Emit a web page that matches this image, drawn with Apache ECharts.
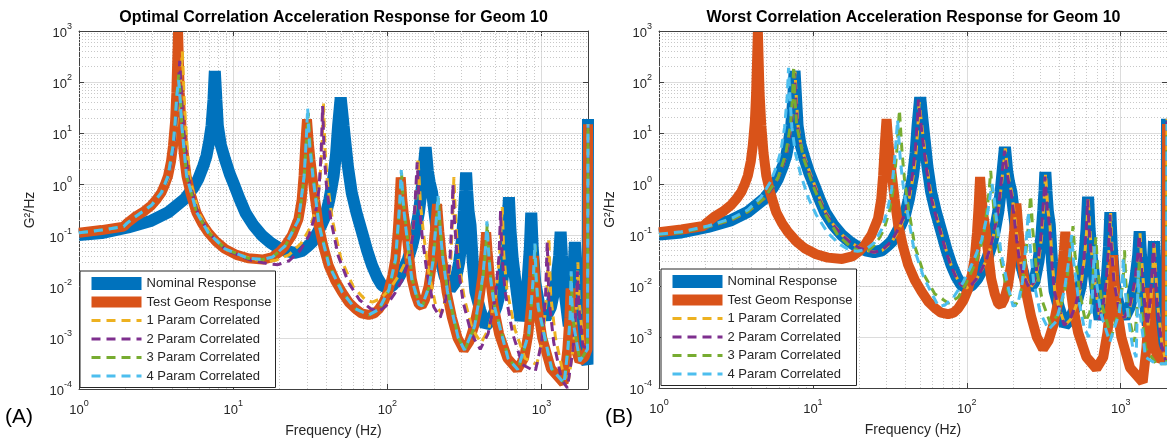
<!DOCTYPE html>
<html>
<head>
<meta charset="utf-8">
<title>Acceleration Response for Geom 10</title>
<script src="https://cdn.jsdelivr.net/npm/echarts@6/dist/echarts.min.js"></script>
<style>
  html, body { margin: 0; padding: 0; background: #ffffff; }
  #chart { width: 1167px; height: 445px; }
</style>
</head>
<body>
<div id="chart"></div>
<script>
// ---- Text ----
const panelTitles = [
  'Optimal Correlation Acceleration Response for Geom 10',
  'Worst Correlation Acceleration Response for Geom 10'
];
const panelTags = ['(A)', '(B)'];
const seriesNames = [
  'Nominal Response', 'Test Geom Response',
  '1 Param Correlated', '2 Param Correlated', '3 Param Correlated', '4 Param Correlated'
];
const xAxisName = 'Frequency (Hz)';
const yAxisName = 'G\u00B2/Hz';

// ---- Axis ranges and grid steps ----
const freqRange = [1, 2000];
const psdRange = [1e-4, 1e3];
const minorSteps = [2, 3, 4, 5, 6, 7, 8, 9];
const xDecades = [1, 10, 100, 1000];
const yDecades = [1e-4, 1e-3, 1e-2, 1e-1, 1, 10, 100];

// ---- Response curves: [frequency Hz, PSD G^2/Hz] ----
const nominalResponse = [
  [1, 0.102], [1.4, 0.112], [2.08, 0.144], [2.95, 0.195], [3.78, 0.283], [4.85, 0.52], [5.5, 0.85],
  [5.93, 1.27], [6.4, 2.3], [6.71, 3.6], [7.0, 7], [7.24, 14], [7.45, 45], [7.6, 165], [7.78, 45],
  [7.95, 14], [8.3, 6], [8.83, 3.15], [9.5, 1.6], [10.2, 0.94], [11, 0.52], [12, 0.28], [13.5, 0.16],
  [15.4, 0.1], [17.5, 0.072], [19.6, 0.058], [22, 0.05], [25, 0.046], [28, 0.05], [30.5, 0.062],
  [32.6, 0.075], [35, 0.11], [37.5, 0.165], [39.6, 0.24], [42, 0.5], [44.8, 1.47], [46.5, 4],
  [47.9, 14], [49.8, 50], [52, 14], [53.4, 6.6], [55.5, 2.2], [58.7, 0.69], [63, 0.28], [68.5, 0.115],
  [74, 0.05], [79.5, 0.026], [86, 0.015], [92, 0.0107], [100, 0.0092], [108, 0.0105], [117, 0.014],
  [127, 0.022], [136, 0.035], [144, 0.06], [152, 0.12], [160, 0.28], [166, 0.7], [171, 1.8], [177, 5.3],
  [183, 1.8], [188, 1.1], [195, 0.69], [205, 0.2], [212, 0.08], [220, 0.035], [235, 0.016], [256, 0.009],
  [275, 0.012], [292, 0.03], [305, 0.09], [314, 0.3], [320, 0.75], [324, 1.71], [329, 0.75], [336, 0.3],
  [346, 0.16], [358, 0.03], [372, 0.008], [400, 0.0035], [433, 0.0017], [470, 0.0022], [510, 0.004],
  [550, 0.01], [580, 0.035], [600, 0.13], [614, 0.56], [628, 0.13], [650, 0.035], [690, 0.008],
  [730, 0.0022], [770, 0.004], [810, 0.012], [840, 0.06], [857, 0.28], [875, 0.06], [910, 0.012],
  [980, 0.0035], [1060, 0.0024], [1150, 0.004], [1240, 0.012], [1300, 0.04], [1329, 0.118], [1355, 0.04],
  [1410, 0.008], [1500, 0.0017], [1570, 0.006], [1615, 0.025], [1645, 0.075], [1675, 0.025], [1740, 0.004],
  [1850, 0.0007], [1985, 0.0003], [2000, 19]
];

const testGeomResponse = [
  [1, 0.114], [1.4, 0.128], [1.95, 0.15], [2.05, 0.175], [2.3, 0.23], [2.65, 0.3], [2.95, 0.39],
  [3.2, 0.52], [3.42, 0.69], [3.6, 0.98], [3.78, 1.46], [3.95, 2.8], [4.07, 5.7], [4.2, 17], [4.28, 62],
  [4.39, 950], [4.5, 62], [4.62, 14], [4.78, 4], [4.98, 1.46], [5.3, 0.65], [5.78, 0.28], [6.3, 0.17],
  [6.88, 0.115], [7.8, 0.075], [8.83, 0.055], [10.5, 0.042], [12.5, 0.036], [15.5, 0.034], [18, 0.038],
  [20, 0.048], [21.7, 0.063], [24, 0.1], [26.5, 0.21], [27.8, 0.5], [28.6, 1.46], [29.4, 6.6],
  [30.1, 18.8], [30.9, 6.6], [31.7, 3], [32.6, 1.46], [34, 0.5], [35.8, 0.16], [38.5, 0.06],
  [41.6, 0.026], [46, 0.013], [50.8, 0.0078], [56, 0.005], [62, 0.0037], [68, 0.003], [75.5, 0.0028],
  [82, 0.003], [87.7, 0.0036], [95, 0.0052], [101.7, 0.0085], [108, 0.017], [112.6, 0.035],
  [116.5, 0.11], [119.5, 0.38], [122, 1.37], [125, 0.5], [128, 0.25], [131, 0.16], [137, 0.05],
  [144, 0.014], [152, 0.007], [160, 0.0045], [167, 0.0042], [175, 0.0055], [185, 0.01], [195, 0.03],
  [203, 0.12], [210, 0.41], [217, 0.12], [225, 0.04], [242, 0.008], [262, 0.0025], [285, 0.001],
  [313, 0.00058], [340, 0.00085], [365, 0.0017], [390, 0.0045], [412, 0.015], [428, 0.05], [437, 0.115],
  [446, 0.05], [462, 0.015], [490, 0.004], [530, 0.0012], [600, 0.0004], [695, 0.00024], [770, 0.0004],
  [820, 0.0012], [860, 0.005], [880, 0.016], [892, 0.04], [905, 0.016], [940, 0.004], [1010, 0.001],
  [1150, 0.00025], [1390, 0.00013], [1470, 0.0006], [1515, 0.0025], [1543, 0.0092], [1570, 0.0025],
  [1640, 0.0007], [1760, 0.00035], [1900, 0.00042], [1985, 0.0006], [2000, 15]
];

// Optimal correlation runs
const optimal1Param = [
  [1, 0.114], [1.4, 0.128], [1.95, 0.15], [2.05, 0.175], [2.3, 0.23], [2.95, 0.385], [3.42, 0.66],
  [3.8, 1.3], [4.1, 5], [4.3, 15], [4.5, 55], [4.68, 400], [4.8, 55], [4.92, 14], [5.2, 1.4], [6, 0.27],
  [7.1, 0.11], [9, 0.053], [13, 0.035], [16.5, 0.031], [19, 0.033], [23, 0.042], [27.5, 0.07],
  [31.5, 0.14], [34.5, 0.35], [36.5, 1.2], [37.6, 5], [38.5, 38], [39.4, 5], [40.8, 1.1], [44, 0.2],
  [50, 0.035], [60, 0.01], [72, 0.0055], [80, 0.005], [90, 0.0058], [102, 0.0085], [118, 0.016],
  [134, 0.035], [144, 0.09], [152, 0.4], [158, 3.3], [164, 0.4], [172, 0.1], [185, 0.02], [205, 0.0045],
  [225, 0.003], [243, 0.007], [258, 0.035], [265, 0.25], [270, 1.4], [276, 0.25], [288, 0.035],
  [315, 0.006], [355, 0.0015], [405, 0.0008], [455, 0.0015], [505, 0.007], [535, 0.045], [556, 0.36],
  [568, 0.045], [595, 0.009], [670, 0.0015], [780, 0.0004], [930, 0.0003], [1020, 0.001], [1080, 0.007],
  [1115, 0.09], [1145, 0.007], [1230, 0.001], [1380, 0.0002], [1500, 0.00016], [1620, 0.0008],
  [1690, 0.005], [1720, 0.03], [1755, 0.005], [1860, 0.0008], [1985, 0.0006], [2000, 15]
];

const optimal2Param = [
  [1, 0.114], [1.4, 0.128], [1.95, 0.15], [2.05, 0.175], [2.3, 0.23], [2.95, 0.385], [3.42, 0.67],
  [3.8, 1.4], [4.1, 5], [4.25, 15], [4.38, 55], [4.5, 260], [4.62, 55], [4.75, 14], [5.1, 1.4],
  [5.9, 0.27], [7, 0.11], [9, 0.052], [13, 0.033], [17, 0.028], [19.5, 0.027], [23, 0.032], [27, 0.05],
  [31, 0.1], [34, 0.25], [36, 0.8], [37.2, 4], [38, 34], [38.9, 4], [40.2, 1], [43, 0.2], [48, 0.04],
  [56, 0.012], [66, 0.0055], [78, 0.0037], [88, 0.0033], [98, 0.0042], [112, 0.0075], [127, 0.015],
  [138, 0.035], [146, 0.1], [151, 0.4], [156, 2.7], [161, 0.4], [168, 0.1], [180, 0.02], [200, 0.004],
  [220, 0.0025], [240, 0.006], [254, 0.03], [262, 0.2], [266, 1.0], [272, 0.2], [285, 0.03],
  [310, 0.005], [350, 0.0012], [400, 0.0006], [450, 0.0012], [500, 0.006], [530, 0.04], [542, 0.3],
  [554, 0.04], [580, 0.008], [650, 0.0012], [750, 0.0003], [910, 0.00022], [1000, 0.0008], [1060, 0.006],
  [1088, 0.075], [1115, 0.006], [1200, 0.0008], [1350, 0.00015], [1470, 0.000105], [1600, 0.0006],
  [1680, 0.004], [1710, 0.02], [1745, 0.004], [1850, 0.0007], [1985, 0.0006], [2000, 15]
];

const optimal3Param = [
  [1, 0.114], [1.4, 0.128], [1.95, 0.15], [2.05, 0.175], [2.3, 0.23], [2.95, 0.39], [3.42, 0.69],
  [3.78, 1.46], [4.07, 5.6], [4.2, 16], [4.3, 55], [4.43, 140], [4.54, 55], [4.65, 14], [4.99, 1.47],
  [5.8, 0.28], [6.9, 0.115], [8.85, 0.055], [12.5, 0.036], [15.5, 0.034], [18, 0.038], [21.8, 0.063],
  [26.7, 0.21], [28.9, 1.45], [29.8, 6.5], [30.7, 25], [31.5, 6.5], [33.1, 1.45], [36.2, 0.16],
  [42, 0.026], [51.2, 0.0078], [62.3, 0.0037], [76, 0.0028], [88.5, 0.0036], [102.5, 0.0085],
  [113.5, 0.035], [120.5, 0.4], [123.5, 1.7], [126.5, 0.5], [132, 0.16], [145, 0.014], [161, 0.0045],
  [169, 0.0042], [187, 0.01], [198, 0.03], [206, 0.12], [214, 0.55], [221, 0.12], [229, 0.04],
  [246, 0.008], [289, 0.001], [317, 0.00058], [370, 0.0017], [417, 0.015], [435, 0.055], [444, 0.17],
  [453, 0.055], [468, 0.015], [497, 0.004], [608, 0.0004], [702, 0.00024], [828, 0.0012], [890, 0.016],
  [910, 0.065], [925, 0.016], [955, 0.004], [1165, 0.00025], [1402, 0.00013], [1484, 0.0006],
  [1535, 0.0025], [1560, 0.018], [1590, 0.0025], [1772, 0.00035], [1985, 0.0006], [2000, 15]
];

const optimal4Param = [
  [1, 0.114], [1.4, 0.128], [1.95, 0.15], [2.05, 0.175], [2.3, 0.23], [2.95, 0.39], [3.42, 0.69],
  [3.78, 1.46], [4.07, 5.5], [4.2, 16], [4.3, 50], [4.42, 110], [4.52, 50], [4.64, 14], [4.98, 1.5],
  [5.78, 0.29], [6.88, 0.115], [8.83, 0.055], [12.5, 0.036], [15.5, 0.034], [18, 0.038], [21.7, 0.063],
  [26.5, 0.2], [28.8, 1.4], [29.7, 6.5], [30.4, 31], [31.2, 6.5], [32.9, 1.4], [36, 0.16], [41.8, 0.026],
  [51, 0.0078], [62, 0.0037], [75.5, 0.0028], [88, 0.0036], [102, 0.0085], [113, 0.035], [120, 0.4],
  [123, 1.9], [126, 0.5], [131, 0.16], [144, 0.014], [160, 0.0045], [168, 0.0042], [186, 0.01],
  [197, 0.03], [205, 0.13], [213, 0.6], [220, 0.13], [228, 0.04], [245, 0.008], [288, 0.001],
  [316, 0.00058], [368, 0.0017], [415, 0.015], [433, 0.06], [442, 0.19], [451, 0.06], [466, 0.015],
  [495, 0.004], [605, 0.0004], [700, 0.00024], [825, 0.0012], [885, 0.016], [905, 0.07], [920, 0.016],
  [950, 0.004], [1160, 0.00025], [1400, 0.00013], [1480, 0.0006], [1530, 0.0025], [1555, 0.02],
  [1585, 0.0025], [1770, 0.00035], [1985, 0.0006], [2000, 15]
];

// Worst correlation runs
const worst1Param = [
  [1, 0.103], [1.4, 0.113], [2.08, 0.145], [2.95, 0.197], [3.78, 0.287], [4.85, 0.53], [5.5, 0.87],
  [5.93, 1.3], [6.4, 2.4], [6.71, 3.75], [7.0, 7.5], [7.24, 15], [7.5, 50], [7.65, 160], [7.8, 50],
  [8.0, 14], [8.35, 6], [8.9, 3.1], [9.6, 1.6], [10.3, 0.93], [11.1, 0.52], [12.1, 0.28], [13.6, 0.16],
  [15.5, 0.1], [17.6, 0.072], [19.7, 0.058], [22.1, 0.05], [25.2, 0.046], [28.2, 0.05], [30.7, 0.062],
  [32.8, 0.076], [35.2, 0.11], [37.8, 0.17], [39.9, 0.25], [42.3, 0.52], [45, 1.5], [46.8, 4.2],
  [48.2, 14], [49, 40], [51, 14], [52.6, 6.5], [55, 2.2], [58.2, 0.7], [62.5, 0.28], [68, 0.115],
  [73.5, 0.05], [79, 0.026], [85.5, 0.015], [91.5, 0.0107], [99.5, 0.0092], [107.5, 0.0105],
  [116.5, 0.014], [126.5, 0.022], [135.5, 0.035], [143.5, 0.06], [151.5, 0.12], [160, 0.28], [166, 0.7],
  [172, 1.9], [178, 5], [184, 1.9], [189, 1.1], [196, 0.69], [206, 0.2], [213, 0.08], [221, 0.035],
  [236, 0.016], [257, 0.009], [276, 0.012], [293, 0.03], [306, 0.09], [315, 0.3], [321, 0.75], [325, 1.6],
  [330, 0.75], [337, 0.3], [347, 0.16], [359, 0.03], [373, 0.008], [401, 0.0035], [435, 0.0017],
  [472, 0.0022], [512, 0.004], [552, 0.01], [582, 0.035], [602, 0.13], [615, 0.55], [630, 0.13],
  [652, 0.035], [692, 0.008], [733, 0.0022], [773, 0.004], [813, 0.012], [844, 0.06], [860, 0.27],
  [878, 0.06], [913, 0.012], [984, 0.0035], [1065, 0.0024], [1155, 0.004], [1246, 0.012], [1307, 0.04],
  [1335, 0.11], [1362, 0.04], [1418, 0.008], [1508, 0.0017], [1578, 0.006], [1622, 0.025], [1650, 0.07],
  [1680, 0.025], [1746, 0.004], [1856, 0.0007], [1985, 0.0003], [2000, 19]
];

const worst2Param = [
  [1, 0.102], [1.4, 0.112], [2.08, 0.144], [2.95, 0.196], [3.78, 0.285], [4.85, 0.525], [5.5, 0.86],
  [5.93, 1.29], [6.4, 2.35], [6.71, 3.7], [7.0, 7.3], [7.24, 15], [7.46, 45], [7.6, 150], [7.76, 45],
  [7.95, 14], [8.3, 6], [8.83, 3.1], [9.5, 1.6], [10.2, 0.93], [11, 0.52], [12, 0.28], [13.5, 0.16],
  [15.4, 0.1], [17.5, 0.072], [19.6, 0.058], [22, 0.05], [25, 0.046], [28, 0.05], [30.5, 0.063],
  [32.6, 0.078], [35, 0.115], [37.5, 0.175], [39.6, 0.26], [42, 0.55], [44.5, 1.6], [46.2, 4.5],
  [47.5, 14], [48.5, 45], [50.5, 14], [52, 6.6], [54.5, 2.2], [57.5, 0.7], [62, 0.28], [67.5, 0.115],
  [73, 0.05], [78.5, 0.026], [85, 0.015], [91, 0.0107], [99, 0.0092], [107, 0.0105], [116, 0.014],
  [126, 0.022], [135, 0.035], [143, 0.06], [151, 0.12], [159, 0.28], [165, 0.7], [170, 1.8], [176, 4.5],
  [182, 1.8], [187, 1.1], [194, 0.69], [204, 0.2], [211, 0.08], [219, 0.035], [234, 0.016], [255, 0.009],
  [274, 0.012], [290, 0.03], [303, 0.09], [312, 0.3], [318, 0.7], [322, 1.4], [327, 0.7], [334, 0.3],
  [344, 0.16], [356, 0.03], [370, 0.008], [398, 0.0035], [430, 0.0017], [468, 0.0022], [507, 0.004],
  [547, 0.01], [577, 0.035], [597, 0.13], [610, 0.5], [624, 0.13], [646, 0.035], [686, 0.008],
  [726, 0.0022], [766, 0.004], [805, 0.012], [836, 0.06], [852, 0.25], [870, 0.06], [905, 0.012],
  [975, 0.0035], [1055, 0.0024], [1145, 0.004], [1233, 0.012], [1293, 0.04], [1320, 0.1], [1346, 0.04],
  [1402, 0.008], [1492, 0.0017], [1562, 0.006], [1606, 0.025], [1635, 0.07], [1665, 0.025], [1730, 0.004],
  [1840, 0.0007], [1985, 0.0003], [2000, 19]
];

const worst3Param = [
  [1, 0.102], [1.4, 0.112], [2.08, 0.145], [2.95, 0.197], [3.78, 0.288], [4.85, 0.53], [5.93, 1.32],
  [6.65, 3.8], [7.15, 14], [7.37, 50], [7.5, 205], [7.63, 50], [7.85, 14], [8.7, 3.2], [10, 0.95],
  [11.8, 0.28], [14.5, 0.1], [17.5, 0.06], [20, 0.048], [23, 0.05], [26, 0.07], [29, 0.13], [31.5, 0.3],
  [33.5, 0.9], [35, 4], [36.5, 28], [38, 4], [39.5, 1.1], [42, 0.3], [46, 0.06], [53, 0.016], [62, 0.007],
  [76, 0.0046], [88, 0.006], [100, 0.012], [115, 0.03], [128, 0.09], [136, 0.35], [140, 0.8], [143, 1.8],
  [146, 0.8], [151, 0.25], [162, 0.05], [180, 0.01], [205, 0.004], [222, 0.006], [238, 0.025],
  [250, 0.13], [260, 0.59], [268, 0.13], [282, 0.025], [310, 0.005], [350, 0.0018], [400, 0.003],
  [445, 0.012], [475, 0.05], [490, 0.15], [505, 0.04], [540, 0.008], [590, 0.002], [630, 0.003],
  [665, 0.02], [690, 0.09], [710, 0.02], [760, 0.004], [870, 0.001], [990, 0.004], [1040, 0.015],
  [1060, 0.05], [1080, 0.012], [1150, 0.002], [1230, 0.0008], [1290, 0.005], [1320, 0.03], [1345, 0.005],
  [1450, 0.0006], [1700, 0.0003], [1985, 0.0003], [2000, 15]
];

const worst4Param = [
  [1, 0.104], [1.4, 0.116], [2.08, 0.15], [2.95, 0.21], [3.78, 0.31], [4.6, 0.55], [5.3, 1.1], [5.8, 2.2],
  [6.2, 4.5], [6.55, 13], [6.8, 50], [6.95, 190], [7.1, 50], [7.3, 13], [7.7, 4], [8.3, 1.6], [9.3, 0.55],
  [10.5, 0.25], [12.5, 0.11], [15, 0.065], [17.5, 0.05], [19.5, 0.048], [22, 0.052], [25, 0.07],
  [28, 0.13], [30.5, 0.3], [32.5, 0.8], [34, 3], [35.5, 18], [37, 3], [38.5, 1], [41, 0.3], [45, 0.06],
  [52, 0.016], [58, 0.008], [65.5, 0.004], [72, 0.0042], [82, 0.006], [95, 0.012], [110, 0.03],
  [125, 0.08], [136, 0.25], [142, 0.6], [146, 1.0], [150, 0.6], [156, 0.2], [168, 0.04], [185, 0.01],
  [200, 0.004], [215, 0.0045], [230, 0.012], [242, 0.06], [251, 0.28], [258, 0.06], [272, 0.012],
  [300, 0.003], [340, 0.0014], [380, 0.002], [430, 0.008], [465, 0.04], [480, 0.1], [495, 0.03],
  [530, 0.006], [580, 0.0015], [620, 0.001], [650, 0.004], [665, 0.02], [675, 0.06], [690, 0.015],
  [740, 0.003], [850, 0.0008], [980, 0.003], [1025, 0.012], [1040, 0.035], [1060, 0.01], [1130, 0.002],
  [1200, 0.0006], [1260, 0.0004], [1285, 0.004], [1300, 0.02], [1320, 0.004], [1450, 0.0004],
  [1700, 0.0003], [1985, 0.0003], [2000, 15]
];

const panelCurves = [
  [nominalResponse, testGeomResponse, optimal1Param, optimal2Param, optimal3Param, optimal4Param],
  [nominalResponse, testGeomResponse, worst1Param, worst2Param, worst3Param, worst4Param]
];

// ---- Styling ----
const FONT = '"Liberation Sans", Arial, Helvetica, sans-serif';
const TEXT = '#262626';
const AXIS = '#404040';
const DASH = [9, 6];
const lineStyles = [
  { color: '#0072BD', width: 12, type: 'solid' },
  { color: '#D95319', width: 10, type: 'solid' },
  { color: '#EDB120', width: 3, type: DASH },
  { color: '#7E2F8E', width: 3, type: DASH },
  { color: '#77AC30', width: 3, type: DASH },
  { color: '#4DBEEE', width: 3, type: DASH }
];
const legendWidths = [13, 11, 3, 3, 3, 3];
const gridRects = [
  { left: 79, top: 31, width: 509, height: 358 },
  { left: 659, top: 31, width: 509, height: 357 }
];
const legendPos = [{ left: 80, top: 271 }, { left: 661, top: 269 }];
const tagPos = [{ left: 5 }, { left: 605 }];

// Decade labels drawn as 10 with a raised exponent
function powerLabel(value) {
  const e = Math.log10(value);
  const r = Math.round(e);
  if (Math.abs(e - r) > 1e-6) return '';
  return '{b|10}{s|' + r + '}';
}
const labelRich = {
  b: { fontSize: 13, color: TEXT, fontFamily: FONT, lineHeight: 18, verticalAlign: 'bottom' },
  s: { fontSize: 9, color: TEXT, fontFamily: FONT, lineHeight: 10, verticalAlign: 'top' }
};

// Dotted minor grid at 2..9 of every decade
const minorX = [];
xDecades.forEach(d => minorSteps.forEach(m => { const v = d * m; if (v < freqRange[1]) minorX.push(v); }));
const minorY = [];
yDecades.forEach(d => minorSteps.forEach(m => { const v = d * m; if (v < psdRange[1]) minorY.push(v); }));

const grids = [], xAxes = [], yAxes = [], series = [], legends = [], titles = [];

gridRects.forEach((rect, p) => {
  grids.push(Object.assign({ containLabel: false }, rect));

  const boxLine = { show: true, lineStyle: { color: AXIS, width: 1 } };
  const boxTick = { show: true, inside: true, length: 5, lineStyle: { color: AXIS } };

  xAxes.push({
    type: 'log', logBase: 10, gridIndex: p, min: freqRange[0], max: freqRange[1], interval: 1,
    position: 'bottom', name: xAxisName, nameLocation: 'middle', nameGap: 35,
    nameTextStyle: { fontSize: 14, color: TEXT, fontFamily: FONT },
    axisLine: boxLine, axisTick: boxTick,
    axisLabel: { formatter: powerLabel, rich: labelRich, margin: 10, showMaxLabel: false },
    splitLine: { show: true, lineStyle: { color: '#dcdcdc', width: 1 } }
  });
  xAxes.push({
    type: 'log', logBase: 10, gridIndex: p, min: freqRange[0], max: freqRange[1], interval: 1,
    position: 'top', axisLine: boxLine, axisTick: boxTick,
    axisLabel: { show: false }, splitLine: { show: false }
  });
  yAxes.push({
    type: 'log', logBase: 10, gridIndex: p, min: psdRange[0], max: psdRange[1], interval: 1,
    position: 'left', name: yAxisName, nameLocation: 'middle', nameGap: 42,
    nameTextStyle: { fontSize: 14, color: TEXT, fontFamily: FONT },
    axisLine: boxLine, axisTick: boxTick,
    axisLabel: { formatter: powerLabel, rich: labelRich, margin: 7 },
    splitLine: { show: true, lineStyle: { color: '#dcdcdc', width: 1 } }
  });
  yAxes.push({
    type: 'log', logBase: 10, gridIndex: p, min: psdRange[0], max: psdRange[1], interval: 1,
    position: 'right', axisLine: boxLine, axisTick: boxTick,
    axisLabel: { show: false }, splitLine: { show: false }
  });

  // Minor grid lines carried by an empty helper series, kept beneath the curves
  series.push({
    type: 'line', name: 'minor-grid-' + p, xAxisIndex: 2 * p, yAxisIndex: 2 * p,
    data: [], z: 1, silent: true,
    markLine: {
      z: 1, silent: true, symbol: ['none', 'none'], animation: false,
      label: { show: false }, emphasis: { disabled: true },
      lineStyle: { color: '#c8c8c8', type: [1, 2], width: 1 },
      data: minorX.map(v => ({ xAxis: v })).concat(minorY.map(v => ({ yAxis: v })))
    }
  });

  panelCurves[p].forEach((pts, k) => {
    series.push({
      type: 'line', name: seriesNames[k], xAxisIndex: 2 * p, yAxisIndex: 2 * p,
      data: pts, showSymbol: false, symbol: 'none', silent: true, z: 3,
      clip: k > 1, emphasis: { disabled: true },
      lineStyle: Object.assign({ join: 'bevel', cap: 'butt' }, lineStyles[k])
    });
  });

  legends.push({
    orient: 'vertical', left: legendPos[p].left, top: legendPos[p].top,
    itemWidth: 50, itemHeight: 12, itemGap: 5.5, padding: [6, 4, 5, 5],
    backgroundColor: '#ffffff', borderColor: TEXT, borderWidth: 1, borderRadius: 0,
    selectedMode: false, z: 6,
    textStyle: { fontSize: 13, lineHeight: 13, color: TEXT, fontFamily: FONT },
    data: seriesNames.map((n, k) => ({
      name: n,
      itemStyle: { opacity: 0 },
      lineStyle: { color: lineStyles[k].color, width: legendWidths[k], type: lineStyles[k].type, cap: 'butt' }
    }))
  });

  titles.push({
    text: panelTitles[p], left: rect.left + rect.width / 2, top: 10, textAlign: 'center', padding: 0,
    textStyle: { fontSize: 16, fontWeight: 'bold', color: '#000000', fontFamily: FONT }
  });
  titles.push({
    text: panelTags[p], left: tagPos[p].left, top: 407, padding: 0,
    textStyle: { fontSize: 21, fontWeight: 'normal', color: '#000000', fontFamily: FONT }
  });
});

const chart = echarts.init(document.getElementById('chart'), null, { renderer: 'canvas' });
chart.setOption({
  backgroundColor: '#ffffff',
  animation: false,
  title: titles,
  legend: legends,
  grid: grids,
  xAxis: xAxes,
  yAxis: yAxes,
  series: series
});
</script>
</body>
</html>
